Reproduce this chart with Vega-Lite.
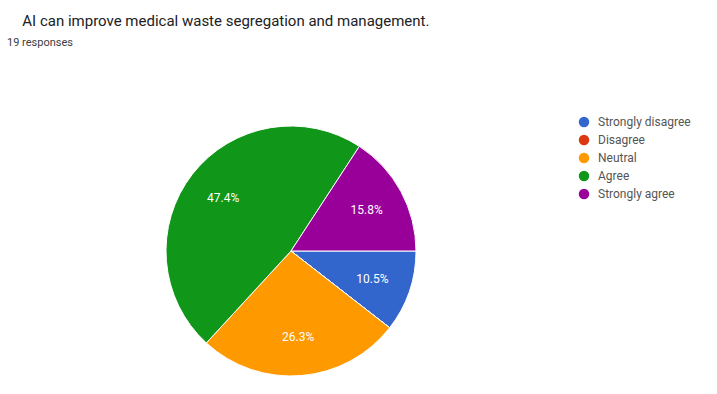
{
  "$schema": "https://vega.github.io/schema/vega-lite/v6.json",
  "autosize": {"type": "none"},
  "padding": {"left": 0, "top": 108, "right": 135, "bottom": 0},
  "width": 582,
  "height": 286,
  "background": "white",
  "title": {
    "text": "\u200b\u2003AI can improve medical waste segregation and management.",
    "subtitle": "19 responses",
    "anchor": "start",
    "frame": "group",
    "offset": 60,
    "dx": 7,
    "font": "Roboto",
    "fontSize": 15,
    "fontWeight": "normal",
    "color": "#202124",
    "subtitleFont": "Roboto",
    "subtitleFontSize": 11,
    "subtitleColor": "#3c4043",
    "subtitlePadding": 8
  },
  "data": {
    "values": [
      {"answer": "Strongly disagree", "count": 2, "idx": 1, "label": "10.5%"},
      {"answer": "Disagree", "count": 0, "idx": 2, "label": "0%"},
      {"answer": "Neutral", "count": 5, "idx": 3, "label": "26.3%"},
      {"answer": "Agree", "count": 9, "idx": 4, "label": "47.4%"},
      {"answer": "Strongly agree", "count": 3, "idx": 5, "label": "15.8%"}
    ]
  },
  "encoding": {
    "theta": {"field": "count", "type": "quantitative", "stack": true, "scale": {"range": [1.5707963, 7.8539816]}},
    "order": {"field": "idx", "type": "quantitative"},
    "color": {
      "field": "answer",
      "type": "nominal",
      "scale": {
        "domain": ["Strongly disagree", "Disagree", "Neutral", "Agree", "Strongly agree"],
        "range": ["#3366cc", "#dc3912", "#ff9900", "#109618", "#990099"]
      },
      "legend": {
        "title": null,
        "orient": "none",
        "legendX": 578,
        "legendY": 8,
        "padding": 0,
        "symbolType": "circle",
        "symbolSize": 110,
        "symbolStrokeWidth": 0,
        "symbolOpacity": 1,
        "labelFont": "Roboto",
        "labelFontSize": 12,
        "labelColor": "#555555",
        "labelOffset": 8,
        "rowPadding": 6
      }
    }
  },
  "layer": [
    {
      "mark": {"type": "arc", "outerRadius": 125, "stroke": "white", "strokeWidth": 1, "opacity": 1}
    },
    {
      "transform": [{"filter": "datum.count > 0"}],
      "mark": {"type": "text", "radius": 86, "font": "Roboto", "fontSize": 12, "fill": "white"},
      "encoding": {
        "text": {"field": "label", "type": "nominal"},
        "color": {"value": "white"}
      }
    }
  ]
}
